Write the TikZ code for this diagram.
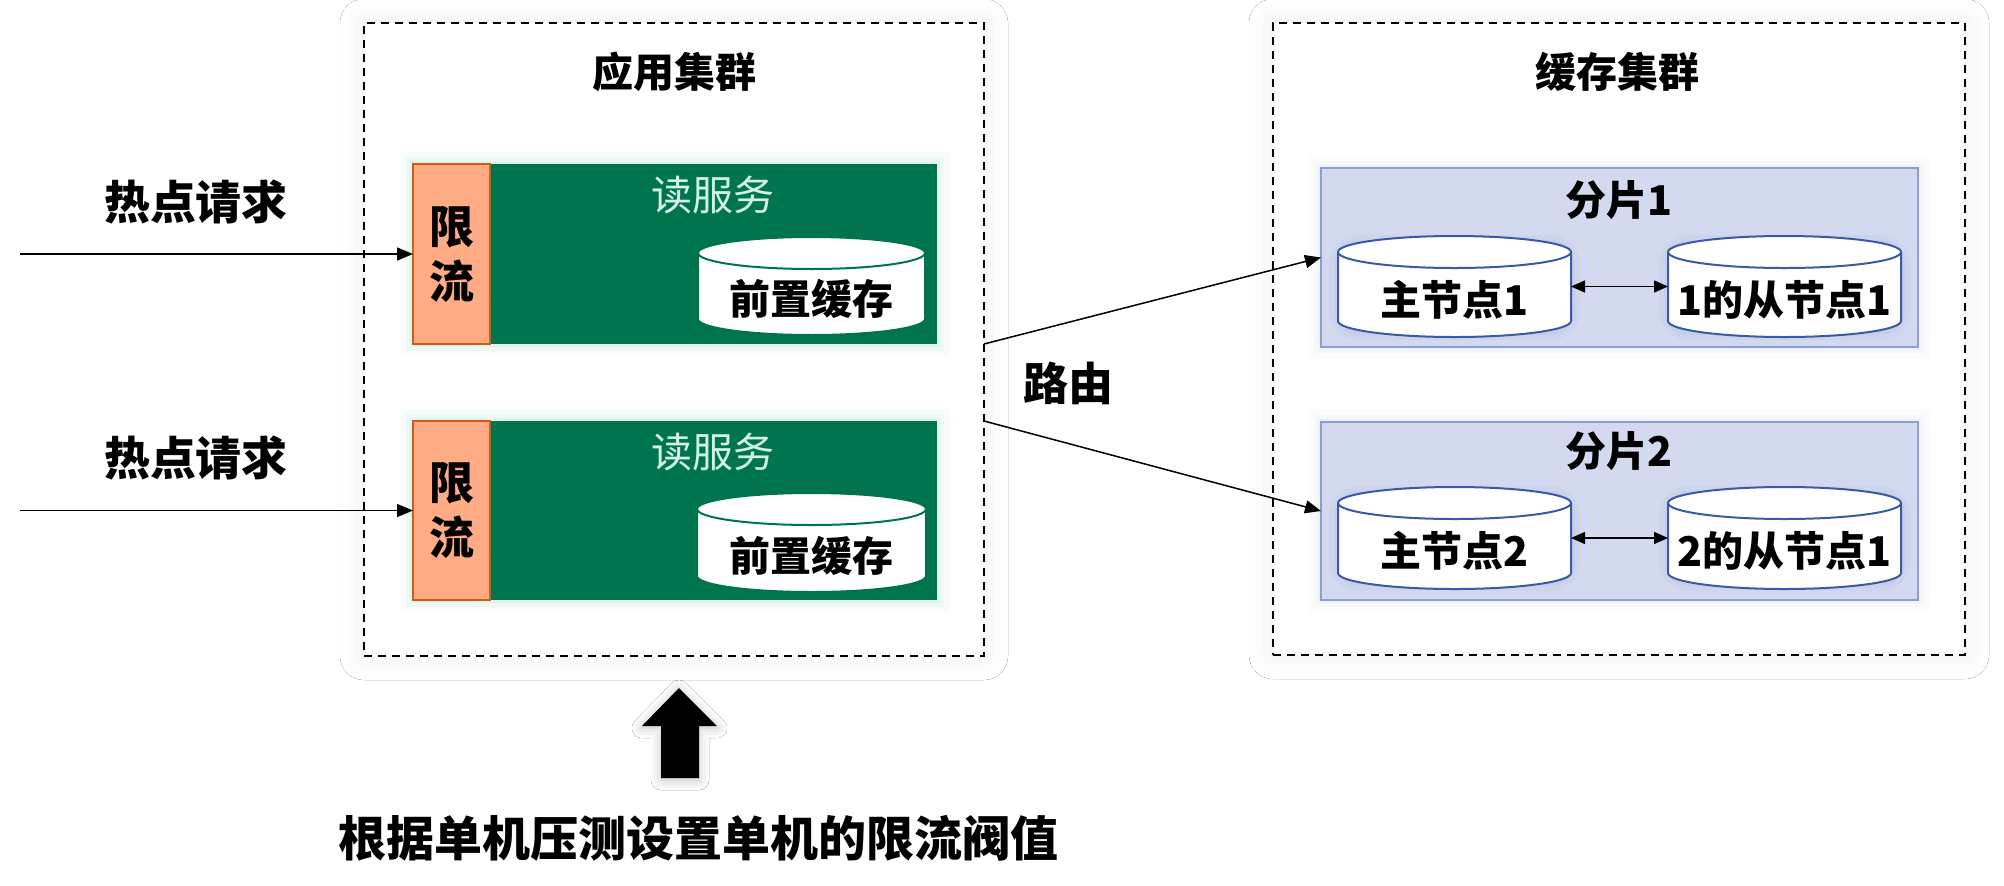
\documentclass[tikz,border=0pt]{standalone}
\usepackage{fontspec}
\setmainfont{Noto Sans CJK SC}
\usetikzlibrary{arrows.meta,shadows.blur,calc}
\definecolor{svcgreen}{HTML}{00744F}
\definecolor{mint}{HTML}{D2F3E4}
\definecolor{limfill}{HTML}{FFAC86}
\definecolor{limdraw}{HTML}{D45A14}
\definecolor{shardfill}{HTML}{D3DAEF}
\definecolor{sharddraw}{HTML}{8D9ED3}
\definecolor{cylblue}{HTML}{3A5AA5}
\definecolor{glowgreen}{HTML}{7FD3B5}
\definecolor{glowblue}{HTML}{8C9DE0}

\tikzset{
 dbox/.style={draw=black, line width=1pt, dash pattern=on 4pt off 3pt, fill=white,
   blur shadow={shadow xshift=0pt, shadow yshift=0pt, shadow blur radius=12pt, shadow opacity=7}},
 limbox/.style={fill=limfill, draw=limdraw, line width=1.1pt},
 svcbox/.style={fill=svcgreen},
 shardbox/.style={fill=shardfill, draw=sharddraw, line width=0.9pt},
 big/.style={font=\fontsize{23}{27}\selectfont\bfseries},
 mid/.style={font=\fontsize{20.5}{24}\selectfont\bfseries},
 svclbl/.style={font=\fontsize{20.5}{24}\selectfont, text=mint},
 limlbl/.style={font=\fontsize{22.5}{27.5}\selectfont\bfseries, align=center},
 arr/.style={draw=black, line width=0.75pt, -{Triangle[length=8pt,width=6.5pt]}},
 darr/.style={draw=black, line width=0.75pt, {Triangle[length=7pt,width=6pt]}-{Triangle[length=7pt,width=6pt]}},
}

% #1 style, #2 name, #3 x1, #4 y1, #5 x2, #6 y2 (pixel coords, y downward)
\newcommand\boxnode[6]{%
 \pgfmathsetmacro\bxW{(#5-#3)*0.5}%
 \pgfmathsetmacro\bxH{(#6-#4)*0.5}%
 \node[#1, minimum width=\bxW pt, minimum height=\bxH pt, inner sep=0pt, outer sep=0pt] (#2) at ({(#3+#5)/2},{-(#4+#6)/2}) {};%
}

% #1 name, #2 cx, #3 top, #4 w, #5 h, #6 line colour, #7 text
\newcommand\cylnode[7]{%
 \pgfmathsetmacro\cyA{#2-#4/2}%
 \pgfmathsetmacro\cyB{#2+#4/2}%
 \pgfmathsetmacro\cyR{#4/2}%
 \pgfmathsetmacro\cyT{-#3-16}%
 \pgfmathsetmacro\cyD{-#3-#5+16}%
 \pgfmathsetmacro\cyC{-#3-#5/2}%
 \pgfmathsetmacro\cyX{-#3-(32+#5)/2+3}%
 \pgfmathsetmacro\cyW{#4*0.5}%
 \pgfmathsetmacro\cyH{#5*0.5}%
 \node[minimum width=\cyW pt, minimum height=\cyH pt, inner sep=0pt, outer sep=0pt] (#1) at (#2,\cyC) {};%
 \filldraw[fill=white, draw=#6, line width=1pt] (\cyA,\cyT) -- (\cyA,\cyD)
   arc[start angle=180, end angle=360, x radius=\cyR, y radius=16] -- (\cyB,\cyT)
   arc[start angle=0, end angle=180, x radius=\cyR, y radius=16] -- cycle;%
 \draw[draw=#6, line width=1pt] (\cyA,\cyT) arc[start angle=180, end angle=360, x radius=\cyR, y radius=16];%
 \node[mid] (#1-t) at (#2,\cyX) {#7};%
}

\begin{document}
\begin{tikzpicture}[x=0.5pt,y=0.5pt]
\useasboundingbox (0,0) rectangle (2004,-885);
\fill[white] (0,0) rectangle (2004,-885);

% cluster boxes
\boxnode{dbox}{app}{364}{23}{984}{656}
\boxnode{dbox}{cache}{1273}{23}{1965}{655}
\node[big, font=\fontsize{20.5}{24}\selectfont\bfseries] (appt) at (674,-72) {应用集群};
\node[big, font=\fontsize{20.5}{24}\selectfont\bfseries] (cachet) at (1617,-72) {缓存集群};

% glows
\foreach \g/\o in {12/0.05, 7/0.08, 3/0.12} {
 \draw[glowgreen, line width=\g pt, opacity=\o] (413,-164) rectangle (937,-344);
 \draw[glowgreen, line width=\g pt, opacity=\o] (413,-421) rectangle (937,-600);
 \draw[glowblue, line width=\g pt, opacity=\o*0.5] (1321,-168) rectangle (1918,-347);
 \draw[glowblue, line width=\g pt, opacity=\o*0.5] (1321,-422) rectangle (1918,-600);
}

% read services
\boxnode{svcbox}{svc1}{490}{164}{937}{344}
\boxnode{limbox}{lim1}{413}{164}{490}{344}
\boxnode{svcbox}{svc2}{490}{421}{937}{600}
\boxnode{limbox}{lim2}{413}{421}{490}{600}
\node[limlbl] (lim1t) at (lim1) {限\\流};
\node[limlbl] (lim2t) at (lim2) {限\\流};
\node[svclbl] (svc1t) at (713,-195) {读服务};
\node[svclbl] (svc2t) at (713,-452) {读服务};
\cylnode{pc1}{811.5}{237}{227}{98}{svcgreen}{前置缓存}
\cylnode{pc2}{811.5}{493}{229}{99}{svcgreen}{前置缓存}

% shards
\boxnode{shardbox}{shard1}{1321}{168}{1918}{347}
\boxnode{shardbox}{shard2}{1321}{422}{1918}{600}
\node[mid] (shard1t) at (1619,-200) {分片1};
\node[mid] (shard2t) at (1619,-451) {分片2};
\foreach \cx/\ty in {1454.5/236, 1784.5/236, 1454.5/487, 1784.5/487} {
 \foreach \g/\o in {9/0.08, 4/0.12} {
  \draw[glowblue, line width=\g pt, opacity=\o, rounded corners=10pt] (\cx-116.5,-\ty-8) rectangle (\cx+116.5,-\ty-95);
 }
}
\cylnode{m1}{1454.5}{236}{233}{101}{cylblue}{主节点1}
\cylnode{s1}{1784.5}{236}{233}{101}{cylblue}{1的从节点1}
\cylnode{m2}{1454.5}{487}{233}{102}{cylblue}{主节点2}
\cylnode{s2}{1784.5}{487}{233}{102}{cylblue}{2的从节点1}
\draw[darr] (m1.east) -- (s1.west);
\draw[darr] (m2.east) -- (s2.west);

% hot requests
\node[big] (hot1) at (196,-202) {热点请求};
\node[big] (hot2) at (196,-458) {热点请求};
\coordinate (src1) at (20,-254);
\coordinate (src2) at (20,-510.5);
\draw[arr] (src1) -- (lim1.west);
\draw[arr] (src2) -- (lim2.west);

% routing
\node[limlbl] (route) at (1068,-383) {路由};
\draw[arr] (app.east |- svc1.south) -- (shard1.west);
\draw[arr] (app.east |- svc2.north) -- (shard2.west);

% bottom block arrow and note
\fill[black, blur shadow={shadow xshift=0pt, shadow yshift=-1pt, shadow blur radius=5pt, shadow opacity=25}]
 (661,-778) -- (661,-726) -- (642,-726) -- (679,-688) -- (717,-726) -- (699,-726) -- (699,-778) -- cycle;
\node[big, font=\fontsize{24}{28}\selectfont\bfseries] (note) at (698,-838) {根据单机压测设置单机的限流阀值};
\end{tikzpicture}
\end{document}
